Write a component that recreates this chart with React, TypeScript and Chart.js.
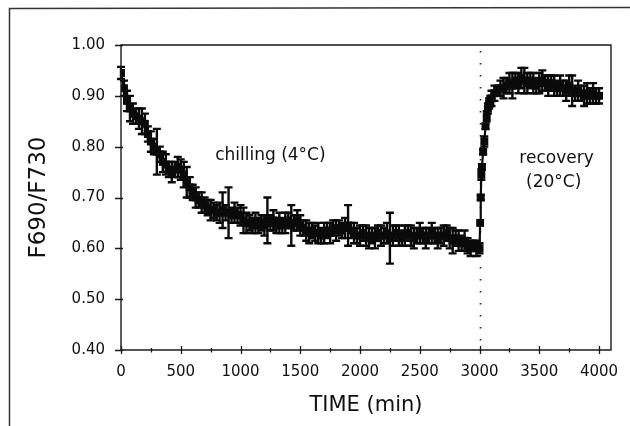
import React, { useEffect, useRef } from "react";
import { Chart, registerables } from "chart.js";
Chart.register(...registerables);

const chillTimes = [
  0, 25, 50, 75, 100, 125, 150, 175, 200, 225, 250, 275, 300, 325, 350, 375, 400, 425, 450, 475,
  500, 525, 550, 575, 600, 625, 650, 675, 700, 725, 750, 775, 800, 825, 850, 875, 900, 925, 950, 975,
  1000, 1025, 1050, 1075, 1100, 1125, 1150, 1175, 1200, 1225, 1250, 1275, 1300, 1325, 1350, 1375, 1400, 1425, 1450, 1475,
  1500, 1525, 1550, 1575, 1600, 1625, 1650, 1675, 1700, 1725, 1750, 1775, 1800, 1825, 1850, 1875, 1900, 1925, 1950, 1975,
  2000, 2025, 2050, 2075, 2100, 2125, 2150, 2175, 2200, 2225, 2250, 2275, 2300, 2325, 2350, 2375, 2400, 2425, 2450, 2475,
  2500, 2525, 2550, 2575, 2600, 2625, 2650, 2675, 2700, 2725, 2750, 2775, 2800, 2825, 2850, 2875, 2900, 2925, 2950, 2975,
  3000,
];
const chillValues = [
  0.945, 0.915, 0.89, 0.875, 0.865, 0.86, 0.855, 0.85, 0.845, 0.825, 0.81, 0.8, 0.79, 0.785, 0.77, 0.765, 0.755, 0.75, 0.755, 0.76,
  0.755, 0.745, 0.73, 0.72, 0.71, 0.7, 0.695, 0.69, 0.685, 0.68, 0.675, 0.675, 0.67, 0.67, 0.675, 0.67, 0.67, 0.665, 0.67, 0.665,
  0.665, 0.655, 0.65, 0.65, 0.645, 0.65, 0.645, 0.65, 0.645, 0.655, 0.65, 0.655, 0.645, 0.65, 0.645, 0.65, 0.655, 0.645, 0.65, 0.655,
  0.645, 0.64, 0.635, 0.63, 0.635, 0.63, 0.63, 0.625, 0.63, 0.635, 0.63, 0.64, 0.635, 0.64, 0.635, 0.64, 0.645, 0.635, 0.63, 0.625,
  0.625, 0.63, 0.625, 0.62, 0.625, 0.62, 0.63, 0.625, 0.625, 0.63, 0.62, 0.625, 0.63, 0.625, 0.62, 0.625, 0.63, 0.625, 0.62, 0.625,
  0.63, 0.625, 0.62, 0.625, 0.63, 0.625, 0.62, 0.625, 0.625, 0.63, 0.62, 0.615, 0.62, 0.615, 0.61, 0.615, 0.605, 0.6, 0.605, 0.6,
  0.6,
];
const chillErrors = [
  0.012, 0.015, 0.02, 0.025, 0.02, 0.015, 0.02, 0.025, 0.02, 0.015, 0.02, 0.015, 0.045, 0.015, 0.02, 0.02, 0.015, 0.02, 0.015, 0.02,
  0.02, 0.025, 0.03, 0.02, 0.015, 0.02, 0.015, 0.02, 0.015, 0.015, 0.02, 0.015, 0.015, 0.02, 0.035, 0.015, 0.05, 0.015, 0.02, 0.015,
  0.02, 0.025, 0.02, 0.015, 0.015, 0.02, 0.015, 0.015, 0.02, 0.045, 0.015, 0.02, 0.015, 0.02, 0.015, 0.02, 0.015, 0.04, 0.015, 0.02,
  0.02, 0.015, 0.02, 0.02, 0.015, 0.015, 0.02, 0.015, 0.02, 0.015, 0.02, 0.015, 0.02, 0.015, 0.015, 0.02, 0.04, 0.015, 0.02, 0.015,
  0.02, 0.015, 0.02, 0.02, 0.015, 0.02, 0.015, 0.02, 0.015, 0.02, 0.05, 0.02, 0.015, 0.02, 0.015, 0.02, 0.015, 0.02, 0.02, 0.015,
  0.02, 0.015, 0.02, 0.015, 0.02, 0.015, 0.02, 0.015, 0.02, 0.015, 0.02, 0.025, 0.015, 0.02, 0.015, 0.02, 0.015, 0.015, 0.01, 0.015,
  0.01,
];

const recoveryTimes = [
  3005, 3010, 3015, 3020, 3030, 3040, 3050, 3060, 3070, 3080, 3090, 3100,
  3125, 3150, 3175, 3200, 3225, 3250, 3275, 3300, 3325, 3350, 3375, 3400, 3425, 3450, 3475, 3500,
  3525, 3550, 3575, 3600, 3625, 3650, 3675, 3700, 3725, 3750, 3775, 3800, 3825, 3850, 3875, 3900,
  3925, 3950, 3975, 4000,
];
const recoveryValues = [
  0.65, 0.7, 0.745, 0.76, 0.79, 0.81, 0.84, 0.86, 0.875, 0.885, 0.89, 0.895,
  0.905, 0.91, 0.915, 0.915, 0.92, 0.925, 0.92, 0.93, 0.925, 0.935, 0.93, 0.925, 0.93, 0.925, 0.92, 0.925,
  0.93, 0.925, 0.92, 0.925, 0.92, 0.915, 0.92, 0.915, 0.91, 0.92, 0.91, 0.905, 0.91, 0.905, 0.9, 0.905,
  0.9, 0.905, 0.9, 0.9,
];
const recoveryErrors = [
  0, 0.005, 0.01, 0.005, 0.005, 0.01, 0.005, 0.01, 0.01, 0.01, 0.01, 0.015,
  0.015, 0.01, 0.015, 0.02, 0.015, 0.02, 0.025, 0.015, 0.02, 0.02, 0.025, 0.02, 0.015, 0.02, 0.015, 0.02,
  0.02, 0.015, 0.02, 0.015, 0.02, 0.015, 0.02, 0.015, 0.02, 0.02, 0.03, 0.015, 0.02, 0.015, 0.02, 0.02,
  0.015, 0.02, 0.015, 0.015,
];

const xTickValues = [0, 500, 1000, 1500, 2000, 2500, 3000, 3500, 4000];
const xMinorTickValues = [250, 750, 1250, 1750, 2250, 2750, 3250, 3750];
const yTickValues = [0.4, 0.5, 0.6, 0.7, 0.8, 0.9, 1.0];
const shiftTime = 3000;
const xTitle = "TIME (min)";
const yTitle = "F690/F730";
const annotations = [
  { text: "chilling (4°C)", t: 1250, v: 0.782 },
  { text: "recovery", t: 3644, v: 0.776 },
  { text: "(20°C)", t: 3620, v: 0.729 },
];

const FONT = "'DejaVu Sans', sans-serif";
const INK = "#0a0a0a";

export default function App() {
  const ref = useRef<HTMLCanvasElement | null>(null);
  useEffect(() => {
    if (!ref.current) return;
    const times = [...chillTimes, ...recoveryTimes];
    const values = [...chillValues, ...recoveryValues];
    const errors = [...chillErrors, ...recoveryErrors];
    const points = times.map((t, i) => ({ x: t, y: values[i] }));

    const decor = {
      id: "decor",
      beforeDatasetsDraw(chart: any) {
        const ctx = chart.ctx;
        const xs = chart.scales.x;
        const ys = chart.scales.y;
        const a = chart.chartArea;
        ctx.save();
        const px = Math.round(xs.getPixelForValue(shiftTime)) + 0.5;
        ctx.strokeStyle = "#222";
        ctx.lineWidth = 1.6;
        ctx.setLineDash([1.6, 10.4]);
        ctx.beginPath();
        ctx.moveTo(px, a.top + 6);
        ctx.lineTo(px, a.bottom);
        ctx.stroke();
        ctx.setLineDash([]);
        ctx.strokeStyle = INK;
        ctx.lineWidth = 2.4;
        times.forEach((t, i) => {
          const e = errors[i] ?? 0;
          if (!e) return;
          const x = xs.getPixelForValue(t);
          const y1 = ys.getPixelForValue(values[i] + e);
          const y2 = ys.getPixelForValue(values[i] - e);
          ctx.beginPath();
          ctx.moveTo(x, y1);
          ctx.lineTo(x, y2);
          ctx.moveTo(x - 4, y1);
          ctx.lineTo(x + 4, y1);
          ctx.moveTo(x - 4, y2);
          ctx.lineTo(x + 4, y2);
          ctx.stroke();
        });
        ctx.restore();
      },
      afterDraw(chart: any) {
        const ctx = chart.ctx;
        const xs = chart.scales.x;
        const ys = chart.scales.y;
        const a = chart.chartArea;
        ctx.save();
        ctx.strokeStyle = "#333";
        ctx.lineWidth = 1.5;
        ctx.beginPath();
        ctx.moveTo(9.5, 426);
        ctx.lineTo(9.5, 8.5);
        ctx.lineTo(630, 7.5);
        ctx.stroke();
        ctx.strokeStyle = "#1a1a1a";
        ctx.lineWidth = 1.4;
        ctx.beginPath();
        ctx.moveTo(a.left, a.top);
        ctx.lineTo(a.right, a.top);
        ctx.lineTo(a.right, a.bottom);
        ctx.lineTo(a.left, a.bottom);
        ctx.closePath();
        ctx.stroke();
        ctx.lineWidth = 1.3;
        ctx.beginPath();
        xTickValues.forEach((v) => {
          const x = Math.round(xs.getPixelForValue(v)) + 0.5;
          ctx.moveTo(x, a.bottom - 4);
          ctx.lineTo(x, a.bottom + 4);
        });
        xMinorTickValues.forEach((v) => {
          const x = Math.round(xs.getPixelForValue(v)) + 0.5;
          ctx.moveTo(x, a.bottom - 2);
          ctx.lineTo(x, a.bottom + 2.5);
        });
        yTickValues.forEach((v) => {
          const y = Math.round(ys.getPixelForValue(v)) + 0.5;
          ctx.moveTo(a.left - 6, y);
          ctx.lineTo(a.left + 2, y);
        });
        ctx.stroke();
        ctx.fillStyle = "#111";
        ctx.font = `17px ${FONT}`;
        ctx.textAlign = "center";
        ctx.textBaseline = "middle";
        annotations.forEach((n) => {
          ctx.fillText(n.text, xs.getPixelForValue(n.t), ys.getPixelForValue(n.v));
        });
        ctx.restore();
      },
    };

    const chart = new Chart(ref.current, {
      type: "line",
      data: {
        datasets: [
          {
            data: points,
            borderColor: INK,
            borderWidth: 2.2,
            backgroundColor: INK,
            pointStyle: "rect",
            pointRadius: 5.6,
            pointBorderWidth: 0,
            pointBackgroundColor: INK,
            tension: 0,
          },
        ],
      },
      options: {
        animation: false,
        responsive: false,
        events: [],
        layout: { padding: { left: 0, top: 45, right: 19, bottom: 0 } },
        plugins: { legend: { display: false }, tooltip: { enabled: false } },
        scales: {
          x: {
            type: "linear",
            min: 0,
            max: 4100,
            grid: { display: false },
            border: { display: false },
            afterFit: (s: any) => {
              s.height = 76;
            },
            afterBuildTicks: (s: any) => {
              s.ticks = xTickValues.map((v) => ({ value: v }));
            },
            ticks: {
              padding: 5,
              maxRotation: 0,
              autoSkip: false,
              color: "#111",
              font: { family: FONT, size: 15 },
              callback: (v: any) => String(v),
            },
            title: {
              display: true,
              text: xTitle,
              color: "#111",
              font: { family: FONT, size: 21 },
              padding: { top: 0, bottom: 8 },
            },
          },
          y: {
            type: "linear",
            min: 0.4,
            max: 1.0,
            grid: { display: false },
            border: { display: false },
            afterFit: (s: any) => {
              s.width = 121;
            },
            afterBuildTicks: (s: any) => {
              s.ticks = yTickValues.map((v) => ({ value: v }));
            },
            ticks: {
              padding: 8,
              autoSkip: false,
              color: "#111",
              font: { family: FONT, size: 15 },
              callback: (v: any) => Number(v).toFixed(2),
            },
            title: {
              display: true,
              text: yTitle,
              color: "#111",
              font: { family: FONT, size: 23 },
              padding: { top: 25, bottom: 0 },
            },
          },
        },
      },
      plugins: [decor],
    } as any);
    return () => chart.destroy();
  }, []);

  return (
    <div style={{ position: "absolute", left: 0, top: 0, width: 630, height: 426, background: "#fff" }}>
      <canvas ref={ref} width={630} height={426} style={{ display: "block", width: 630, height: 426 }} />
    </div>
  );
}
